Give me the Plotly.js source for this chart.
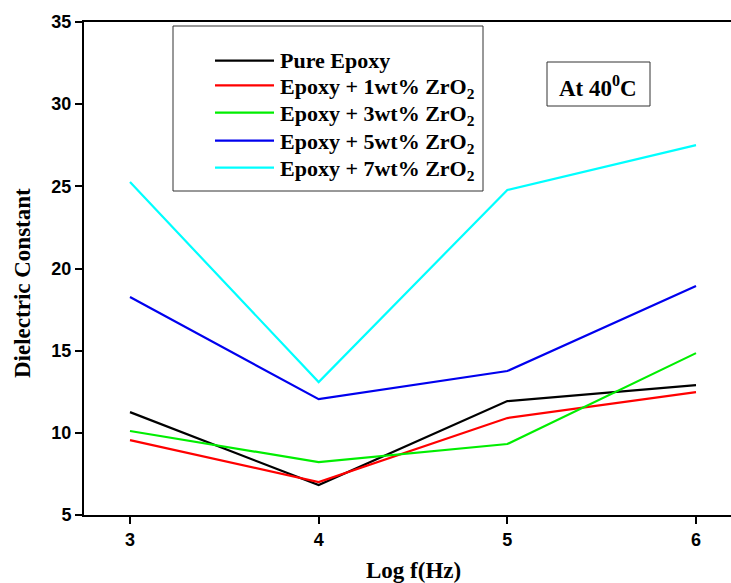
<!DOCTYPE html>
<html>
<head>
<meta charset="utf-8">
<script src="https://cdn.plot.ly/plotly-3.0.1.min.js"></script>
<style>html,body{margin:0;padding:0;background:#fff;}#chart{width:731px;height:583px;}</style>
</head>
<body>
<div id="chart"></div>
<script>
const logF = [3, 4, 5, 6];
const pureEpoxy = [11.26, 6.82, 11.93, 12.9];
const epoxy1 = [9.56, 7.0, 10.9, 12.48];
const epoxy3 = [10.11, 8.22, 9.32, 14.85];
const epoxy5 = [18.26, 12.05, 13.76, 18.93];
const epoxy7 = [25.26, 13.09, 24.78, 27.51];
const seriesNames = ['Pure Epoxy', 'Epoxy + 1wt% ZrO<sub>2</sub>', 'Epoxy + 3wt% ZrO<sub>2</sub>', 'Epoxy + 5wt% ZrO<sub>2</sub>', 'Epoxy + 7wt% ZrO<sub>2</sub>'];
const seriesColors = ['#000000', '#ff0000', '#00ee00', '#0000ee', '#00ffff'];
const yTicks = [5, 10, 15, 20, 25, 30, 35];
const xTicks = [3, 4, 5, 6];
const xTitle = 'Log f(Hz)';
const yTitle = 'Dielectric Constant';

const seriesValues = [pureEpoxy, epoxy1, epoxy3, epoxy5, epoxy7];
const traces = seriesValues.map((v, i) => ({
  x: logF, y: v, type: 'scatter', mode: 'lines', name: seriesNames[i],
  line: {color: seriesColors[i], width: 2.2}, showlegend: false
}));

const W = 731, H = 583, L = 84, R = 0, T = 22, B = 68;
const pw = W - L - R, ph = H - T - B;
const px = x => (x - L) / pw;
const py = y => 1 - (y - T) / ph;

const serif = '"Liberation Serif", "Times New Roman", Times, serif';
const sans = '"Liberation Sans", Arial, Helvetica, sans-serif';
const shapes = [
  {type: 'rect', xref: 'paper', yref: 'paper', x0: px(173), x1: px(483), y0: py(26), y1: py(191), line: {color: '#333', width: 1}},
  {type: 'rect', xref: 'paper', yref: 'paper', x0: px(547), x1: px(650), y0: py(62), y1: py(106), line: {color: '#333', width: 1}}
];
const annotations = [
  {xref: 'paper', yref: 'paper', x: px(598), y: py(86), text: 'At 40<sup>0</sup>C', showarrow: false,
   xanchor: 'center', yanchor: 'middle', font: {family: serif, size: 23, color: '#000', weight: 700}},
  {xref: 'paper', yref: 'paper', x: px(414), y: py(570), text: xTitle, showarrow: false,
   xanchor: 'center', yanchor: 'middle', font: {family: serif, size: 23, color: '#000', weight: 700}},
  {xref: 'paper', yref: 'paper', x: px(22), y: py(283), text: yTitle, showarrow: false, textangle: -90,
   xanchor: 'center', yanchor: 'middle', font: {family: serif, size: 23, color: '#000', weight: 700}}
];
const rowY = [60.7, 85.3, 112.7, 140.7, 167.7];
seriesNames.forEach((n, i) => {
  shapes.push({type: 'line', xref: 'paper', yref: 'paper', x0: px(215), x1: px(274), y0: py(rowY[i]), y1: py(rowY[i]),
    line: {color: seriesColors[i], width: 2.2}});
  annotations.push({xref: 'paper', yref: 'paper', x: px(278), y: py(rowY[i] + (i === 0 ? 0 : 2.5)), text: n,
    showarrow: false, xanchor: 'left', yanchor: 'middle', font: {family: serif, size: 22, color: '#000', weight: 700}});
});

const layout = {
  width: W, height: H,
  margin: {l: L, r: R, t: T, b: B, pad: 0},
  paper_bgcolor: '#fff', plot_bgcolor: '#fff',
  showlegend: false,
  xaxis: {
    range: [3 - 46 / 188.7, 6 + 35 / 188.7], tickvals: xTicks, ticktext: xTicks.map(String),
    showgrid: false, zeroline: false, showline: true, linecolor: '#000', linewidth: 2, mirror: true,
    ticks: 'outside', ticklen: 7, tickwidth: 2, tickcolor: '#000',
    tickfont: {family: sans, size: 18, color: '#000', weight: 700}
  },
  yaxis: {
    range: [5, 35], tickvals: yTicks, ticktext: yTicks.map(String),
    showgrid: false, zeroline: false, showline: true, linecolor: '#000', linewidth: 2,
    ticks: 'outside', ticklen: 7, tickwidth: 2, tickcolor: '#000',
    tickfont: {family: sans, size: 18, color: '#000', weight: 700}
  },
  shapes: shapes,
  annotations: annotations
};

Plotly.newPlot('chart', traces, layout, {displayModeBar: false, staticPlot: true});
</script>
</body>
</html>
